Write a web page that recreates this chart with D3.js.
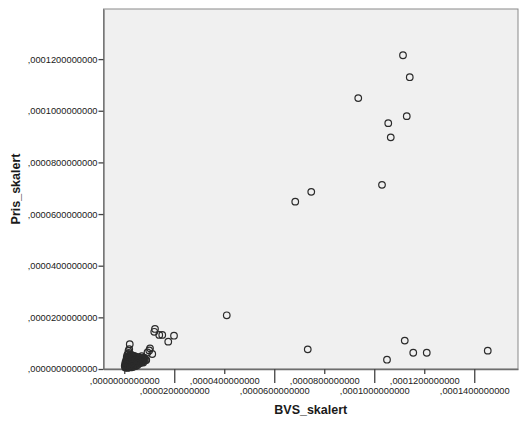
<!DOCTYPE html>
<html>
<head>
<meta charset="utf-8">
<script src="https://cdn.jsdelivr.net/npm/d3@7"></script>
<style>
  body { margin: 0; background: #fff; }
  svg { display: block; font-family: "Liberation Sans", Arial, sans-serif; }
</style>
</head>
<body>
<div id="chart"></div>
<script>
// scatter values (BVS_skalert, Pris_skalert)
const bvs = [
  111.5e-6, 114.2e-6, 93.6e-6, 113.0e-6, 105.6e-6, 106.6e-6, 103.1e-6, 74.8e-6, 68.4e-6,
  41.0e-6, 73.4e-6, 105.1e-6, 112.2e-6, 115.6e-6, 121.0e-6, 145.4e-6,
  12.3e-6, 12.0e-6, 14.0e-6, 15.2e-6, 17.6e-6, 19.9e-6,
  10.3e-6, 10.0e-6, 11.2e-6, 9.3e-6, 7.6e-6, 7.0e-6,
  2.2e-6, 2.0e-6, 1.7e-6,
  0.2e-6, 0.4e-6, 0.5e-6, 0.8e-6, 1.0e-6, 1.2e-6, 1.5e-6, 1.8e-6,
  0.9e-6, 1.2e-6, 1.5e-6, 1.9e-6, 2.2e-6, 2.6e-6, 3.0e-6,
  3.5e-6, 4.2e-6, 5.0e-6, 5.8e-6, 6.6e-6, 7.4e-6, 8.2e-6, 8.8e-6,
  2.4e-6, 3.2e-6, 4.0e-6, 4.8e-6, 5.6e-6, 6.4e-6, 7.2e-6,
  2.0e-6, 2.8e-6, 3.6e-6, 4.4e-6, 5.2e-6, 1.5e-6,
  2.3e-6, 3.0e-6, 3.8e-6, 4.6e-6, 5.4e-6, 6.2e-6,
  1.0e-6, 1.6e-6, 2.4e-6, 3.2e-6, 7.8e-6, 8.6e-6, 6.4e-6, 0.6e-6, 4.0e-6, 2.8e-6, 3.6e-6, 1.2e-6,
  0.6e-6, 0.9e-6, 1.3e-6, 1.7e-6, 2.0e-6, 2.4e-6, 1.1e-6, 1.4e-6, 2.8e-6, 3.4e-6,
  4.0e-6, 4.6e-6, 5.2e-6, 6.0e-6, 6.8e-6, 7.6e-6, 8.0e-6, 3.6e-6, 4.2e-6, 5.0e-6,
  5.8e-6, 6.6e-6, 7.0e-6, 2.6e-6, 3.4e-6, 4.4e-6, 5.0e-6, 5.8e-6, 1.8e-6, 2.2e-6,
  3.0e-6, 3.8e-6, 4.6e-6, 1.0e-6, 0.4e-6, 2.6e-6, 3.2e-6, 1.8e-6, 4.0e-6, 7.6e-6
];
const pris = [
  121.5e-6, 113.0e-6, 104.9e-6, 97.9e-6, 95.2e-6, 89.7e-6, 71.3e-6, 68.6e-6, 64.8e-6,
  20.8e-6, 7.6e-6, 3.6e-6, 11.0e-6, 6.3e-6, 6.3e-6, 7.1e-6,
  15.5e-6, 14.4e-6, 13.2e-6, 13.2e-6, 10.6e-6, 12.9e-6,
  8.0e-6, 7.2e-6, 5.8e-6, 6.4e-6, 3.5e-6, 5.0e-6,
  9.6e-6, 7.7e-6, 7.0e-6,
  1.2e-6, 2.0e-6, 2.7e-6, 3.5e-6, 4.6e-6, 5.4e-6, 5.8e-6, 6.2e-6,
  1.0e-6, 1.8e-6, 2.5e-6, 3.3e-6, 4.2e-6, 5.0e-6, 5.4e-6,
  5.2e-6, 5.0e-6, 4.6e-6, 4.6e-6, 4.2e-6, 4.2e-6, 3.9e-6, 3.5e-6,
  2.3e-6, 3.1e-6, 3.5e-6, 3.1e-6, 2.7e-6, 3.1e-6, 3.1e-6,
  0.8e-6, 1.2e-6, 1.5e-6, 1.9e-6, 1.5e-6, 0.6e-6,
  3.9e-6, 4.2e-6, 4.2e-6, 3.9e-6, 3.9e-6, 3.5e-6,
  3.1e-6, 1.9e-6, 1.2e-6, 2.3e-6, 3.1e-6, 3.5e-6, 2.3e-6, 0.7e-6, 2.7e-6, 2.0e-6, 0.9e-6, 0.4e-6,
  1.5e-6, 2.4e-6, 3.0e-6, 3.9e-6, 4.8e-6, 5.6e-6, 4.0e-6, 4.9e-6, 4.6e-6, 4.6e-6,
  4.8e-6, 4.4e-6, 4.4e-6, 4.0e-6, 3.7e-6, 3.7e-6, 4.4e-6, 3.8e-6, 3.3e-6, 3.5e-6,
  3.3e-6, 2.9e-6, 2.6e-6, 2.8e-6, 2.7e-6, 2.4e-6, 2.2e-6, 2.0e-6, 2.6e-6, 1.6e-6,
  1.6e-6, 1.9e-6, 1.2e-6, 1.6e-6, 0.6e-6, 0.6e-6, 0.8e-6, 1.2e-6, 1.1e-6, 2.5e-6
];
const xTicks = [0, 0.00002, 0.00004, 0.00006, 0.00008, 0.0001, 0.00012, 0.00014];
const yTicks = [0, 0.00002, 0.00004, 0.00006, 0.00008, 0.0001, 0.00012];

const W = 519, H = 425;
const plotL = 103.5, plotR = 518, plotT = 9, plotB = 369;

const fmt = v => d3.format(".13f")(v).replace(/^0\./, ",");

const x = d3.scaleLinear().domain([-8.3e-6, 1.575e-4]).range([plotL, plotR]);
const y = d3.scaleLinear().domain([0, 1.394e-4]).range([plotB, plotT]);

const svg = d3.select("#chart").append("svg")
  .attr("width", W).attr("height", H);

svg.append("rect")
  .attr("x", plotL).attr("y", plotT)
  .attr("width", plotR - plotL).attr("height", plotB - plotT)
  .attr("fill", "#f0f0f0")
  .attr("stroke", "#8a8a8a")
  .attr("stroke-width", 1);

// y axis
const yAxis = svg.append("g")
  .attr("transform", `translate(${plotL},0)`)
  .call(d3.axisLeft(y).tickValues(yTicks).tickSize(5).tickSizeOuter(0).tickFormat(fmt));
yAxis.select(".domain").attr("stroke", "#6e6e6e").attr("stroke-width", 1.3);
yAxis.selectAll(".tick line").attr("stroke", "#444").attr("stroke-width", 1.3);
yAxis.selectAll(".tick text").attr("font-size", "9.3px").attr("fill", "#1a1a1a").attr("x", -6);

// x axis with staggered labels
const xAxis = svg.append("g")
  .attr("transform", `translate(0,${plotB})`)
  .call(d3.axisBottom(x).tickValues(xTicks).tickSizeOuter(0).tickFormat(fmt));
xAxis.select(".domain").attr("stroke", "#6e6e6e").attr("stroke-width", 1.3);
xAxis.selectAll(".tick line")
  .attr("stroke", "#444").attr("stroke-width", 1.3)
  .attr("y2", (d, i) => i % 2 ? 14 : 5);
xAxis.selectAll(".tick text")
  .attr("font-size", "9.3px").attr("fill", "#1a1a1a")
  .attr("dy", null)
  .attr("y", (d, i) => i % 2 ? 24.5 : 14.5);

// points
const pts = bvs.map((v, i) => ({ x: v, y: pris[i] }));
svg.append("g").selectAll("circle")
  .data(pts)
  .enter().append("circle")
  .attr("cx", d => x(d.x))
  .attr("cy", d => y(d.y))
  .attr("r", 3.3)
  .attr("fill", "none")
  .attr("stroke", "#2b2b2b")
  .attr("stroke-width", 1.2);

// axis titles
svg.append("text")
  .attr("x", (plotL + plotR) / 2).attr("y", 414)
  .attr("text-anchor", "middle")
  .attr("font-size", "12.5px").attr("font-weight", "bold").attr("fill", "#1a1a1a")
  .text("BVS_skalert");

svg.append("text")
  .attr("transform", `translate(20,${(plotT + plotB) / 2}) rotate(-90)`)
  .attr("text-anchor", "middle")
  .attr("font-size", "12.5px").attr("font-weight", "bold").attr("fill", "#1a1a1a")
  .text("Pris_skalert");
</script>
</body>
</html>
